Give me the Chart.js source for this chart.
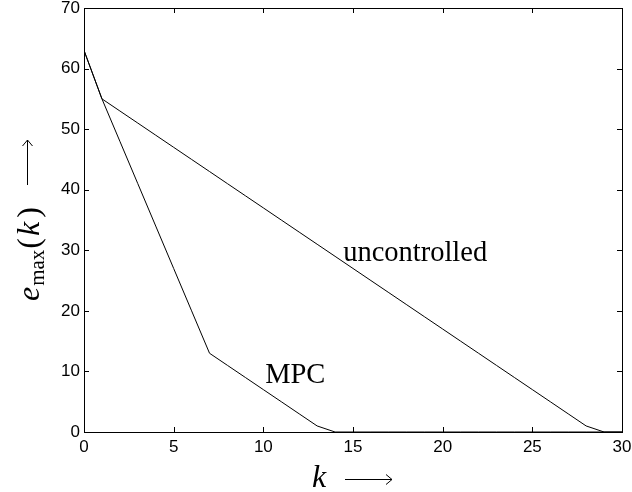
<!DOCTYPE html>
<html>
<head>
<meta charset="utf-8">
<script src="https://cdn.jsdelivr.net/npm/chart.js@4/dist/chart.umd.min.js"></script>
<style>
body{margin:0;background:#fff;}
#wrap{width:632px;height:492px;}
</style>
</head>
<body>
<div id="wrap"><canvas id="cx"></canvas></div>
<script>
// k values and the two max-error curves
const kValues=[0,1,2,3,4,5,6,7,8,9,10,11,12,13,14,15,16,17,18,19,20,21,22,23,24,25,26,27,28,29,30];
const uncontrolled=[63,55,53,51,49,47,45,43,41,39,37,35,33,31,29,27,25,23,21,19,17,15,13,11,9,7,5,3,1,0,0];
const mpc=[63,55,48,41,34,27,20,13,11,9,7,5,3,1,0,0,0,0,0,0,0,0,0,0,0,0,0,0,0,0,0];
const xTicks=[0,5,10,15,20,25,30];
const yTicks=[0,10,20,30,40,50,60,70];
const notes=[{text:'uncontrolled',x:14.45,y:28.2},{text:'MPC',x:10.1,y:8.1}];

const serif='"Liberation Serif","DejaVu Serif",serif';
const sans='"Liberation Sans",Arial,sans-serif';

function pts(ys){
  let out=[];
  for(let i=0;i<kValues.length;i++) out.push({x:kValues[i],y:ys[i]});
  return out;
}

// long thin arrow pointing along +x in the current transform
function arrow(c,x1,x2,y){
  c.beginPath();
  c.moveTo(x1,y+0.5);c.lineTo(x2,y+0.5);
  c.moveTo(x2-6,y-4.5);c.lineTo(x2,y+0.5);c.lineTo(x2-6,y+5.5);
  c.stroke();
}

// box, inward ticks, labels and axis titles
const extras={
  id:'extras',
  afterDraw(chart){
    const c=chart.ctx,a=chart.chartArea,xs=chart.scales.x,ys=chart.scales.y;
    c.save();
    c.strokeStyle='#000';
    c.lineWidth=1;
    c.strokeRect(Math.round(a.left)+0.5,Math.round(a.top)+0.5,Math.round(a.right-a.left),Math.round(a.bottom-a.top));
    const t=5;
    c.beginPath();
    for(let v of xTicks){
      let p=Math.round(xs.getPixelForValue(v))+0.5;
      c.moveTo(p,a.bottom);c.lineTo(p,a.bottom-t);
      c.moveTo(p,a.top);c.lineTo(p,a.top+t);
    }
    for(let v of yTicks){
      let p=Math.round(ys.getPixelForValue(v))+0.5;
      c.moveTo(a.left,p);c.lineTo(a.left+t,p);
      c.moveTo(a.right,p);c.lineTo(a.right-t,p);
    }
    c.stroke();

    c.fillStyle='#000';
    c.textBaseline='alphabetic';
    c.textAlign='left';
    c.font='28.5px '+serif;
    for(let n of notes){
      c.fillText(n.text,xs.getPixelForValue(n.x),ys.getPixelForValue(n.y));
    }

    // x title: k -->
    c.font='italic 32px '+serif;
    c.fillText('k',312,487);
    arrow(c,345,392,479);

    // y title rotated: e_max(k) -->
    c.translate(39,301);
    c.rotate(-Math.PI/2);
    let x=0;
    c.font='italic 32px '+serif;
    c.fillText('e',x,0);x+=c.measureText('e').width+1;
    c.font='21px '+serif;
    c.fillText('max',x,5);x+=c.measureText('max').width+1;
    c.font='32px '+serif;
    c.fillText('(',x,0);x+=c.measureText('(').width+2;
    c.font='italic 32px '+serif;
    c.fillText('k',x,0);x+=c.measureText('k').width+4;
    c.font='32px '+serif;
    c.fillText(')',x,0);
    arrow(c,116,161,-12);
    c.restore();
  }
};

new Chart('cx',{
  type:'line',
  data:{
    datasets:[
      {label:'uncontrolled',data:pts(uncontrolled),borderColor:'#000',borderWidth:1,pointRadius:0,tension:0,fill:false},
      {label:'MPC',data:pts(mpc),borderColor:'#000',borderWidth:1,pointRadius:0,tension:0,fill:false}
    ]
  },
  options:{
    responsive:true,
    maintainAspectRatio:false,
    animation:false,
    layout:{padding:{top:8,right:10,left:0,bottom:0}},
    plugins:{legend:{display:false},tooltip:{enabled:false}},
    scales:{
      x:{
        type:'linear',min:0,max:30,
        grid:{display:false,drawTicks:false},
        border:{display:false},
        ticks:{stepSize:5,color:'#000',font:{family:sans,size:17},padding:5,maxRotation:0},
        afterFit(s){s.height=60;s.paddingLeft=0;s.paddingRight=0;}
      },
      y:{
        min:0,max:70,
        grid:{display:false,drawTicks:false},
        border:{display:false},
        ticks:{stepSize:10,color:'#000',font:{family:sans,size:17},padding:4},
        afterFit(s){s.width=84;s.paddingTop=0;s.paddingBottom=0;}
      }
    }
  },
  plugins:[extras]
});
</script>
</body>
</html>
